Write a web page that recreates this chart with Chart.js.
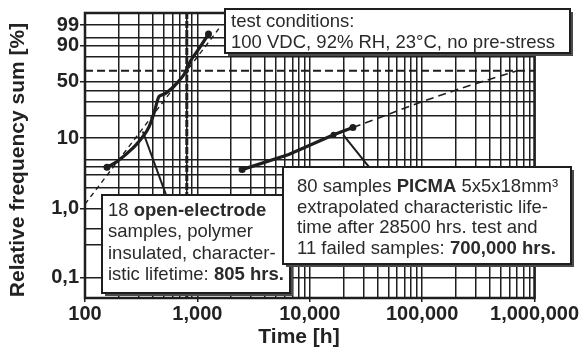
<!DOCTYPE html>
<html>
<head>
<meta charset="utf-8">
<script src="https://cdn.jsdelivr.net/npm/chart.js@4.4.7/dist/chart.umd.min.js"></script>
<style>
    html, body { margin: 0; padding: 0; background: #fff; }
</style>
</head>
<body>
<canvas id="weibull" width="579" height="353"></canvas>
<script>
//////////////////////////////////////////      Data     ///////////////////////////////////////////

// 18 open-electrode samples (failure times in hours, frequency sum in %).
var openHours = [157, 193, 268, 337, 372, 411, 454, 517, 590, 673, 767, 875, 1030, 1256];
var openPct   = [3.9, 4.7, 7.3, 11.1, 14.3, 21.4, 34.2, 37.3, 42.4, 49.8, 59.6, 75.7, 87.5, 96.7];

// Weibull fit line for the open-electrode samples.
var openFitHours = [100, 805, 1550];
var openFitPct   = [1.15, 63.2, 98.3];

// 80 PICMA samples, 11 failed.
var picmaHours = [2500, 6500, 16300, 24200];
var picmaPct   = [3.6, 5.9, 11.1, 13.9];

// Extrapolation for the PICMA samples.
var picmaFitHours = [24200, 99500, 241500, 700000];
var picmaFitPct   = [13.9, 29.9, 44.2, 63.2];

// Characteristic lifetime markers.
var charPct   = 63.2;
var charHours = 805;

// Leader lines from the curves to the text boxes.
var leaderOpenHours  = [327, 535];
var leaderOpenPct    = [12.3, 1.45];
var leaderPicmaHours = [19850, 34300];
var leaderPicmaPct   = [11.1, 3.77];

// Axes.
var xMinHours   = 100;
var xMaxHours   = 1000000;
var xLabelHours = [100, 1000, 10000, 100000, 1000000];
var yMinPct     = 0.05;
var yMaxPct     = 99.9;
var yGridPct    = [0.1, 0.3, 0.5, 1, 2, 3, 4, 5, 10, 20, 30, 40, 50, 80, 90, 95, 99];
var yLabelPct   = [0.1, 1, 10, 50, 90, 99];
var yLabelText  = ['0,1', '1,0', '10', '50', '90', '99'];

//////////////////////////////////////////      Helpers     ///////////////////////////////////////////

var FONT = '"Liberation Sans", Arial, sans-serif';
var INK  = '#1e1e1e';

// Weibull probability transform: ln(-ln(1-F)).
function weib(p) {
    return Math.log(-Math.log(1 - p / 100));
}

function points(hours, pct) {
    return hours.map(function(h, i) {
        return { x: h, y: weib(pct[i]) };
    });
}

function xGridHours() {
    var list = [];
    for (var k = 2; k < 6; k++) {
        for (var m = 1; m < 10; m++) {
            list.push(m * Math.pow(10, k));
        }
    }
    list.push(xMaxHours);
    return list;
}

/*
 * Draws a framed text box with a drop shadow. Each line is a list of [text, bold] runs.
 */
function drawBox(ctx, box) {

    ctx.fillStyle = '#4a4a4a';
    ctx.fillRect(box.x + 3, box.y + 3, box.w, box.h);
    ctx.fillStyle = '#fff';
    ctx.fillRect(box.x, box.y, box.w, box.h);
    ctx.lineWidth = 2;
    ctx.strokeStyle = INK;
    ctx.strokeRect(box.x, box.y, box.w, box.h);

    ctx.fillStyle = '#2a2a2a';
    ctx.textAlign = 'left';
    ctx.textBaseline = 'alphabetic';
    box.lines.forEach(function(line, i) {
        var x = box.tx;
        line.forEach(function(run) {
            ctx.font = (run[1] ? 'bold ' : '') + '18.5px ' + FONT;
            ctx.fillText(run[0], x, box.ty + i * box.lh);
            x += ctx.measureText(run[0]).width;
        });
    });
}

var openBox = {
    x: 102, y: 195, w: 188, h: 98, tx: 108, ty: 216, lh: 21.3,
    lines: [
        [['18 ', false], ['open-electrode', true]],
        [['samples, polymer', false]],
        [['insulated, character-', false]],
        [['istic lifetime: ', false], ['805 hrs.', true]]
    ]
};

var picmaBox = {
    x: 283, y: 167, w: 288, h: 97, tx: 297, ty: 192, lh: 20.6,
    lines: [
        [['80 samples ', false], ['PICMA', true], [' 5x5x18mm\u00b3', false]],
        [['extrapolated characteristic life-', false]],
        [['time after 28500 hrs. test and', false]],
        [['11 failed samples: ', false], ['700,000 hrs.', true]]
    ]
};

var testBox = {
    x: 225, y: 9, w: 345, h: 44, tx: 231, ty: 27, lh: 20.5,
    lines: [
        [['test conditions:', false]],
        [['100 VDC, 92% RH, 23\u00b0C, no pre-stress', false]]
    ]
};

var annotationPlugin = {
    id: 'annotations',
    afterDatasetsDraw: function(chart) {
        var ctx = chart.ctx, a = chart.chartArea;
        ctx.save();

        // Plot frame.
        ctx.lineWidth = 2.5;
        ctx.strokeStyle = INK;
        ctx.strokeRect(a.left, a.top, a.right - a.left, a.bottom - a.top);

        drawBox(ctx, openBox);
        drawBox(ctx, picmaBox);
        drawBox(ctx, testBox);

        // Axis titles.
        ctx.fillStyle = '#222';
        ctx.font = 'bold 21px ' + FONT;
        ctx.textAlign = 'center';
        ctx.textBaseline = 'alphabetic';
        ctx.fillText('Time [h]', 299, 343);

        ctx.translate(24, 160);
        ctx.rotate(-Math.PI / 2);
        ctx.fillText('Relative frequency sum [%]', 0, 0);
        ctx.restore();
    }
};

//////////////////////////////////////////      Chart     ///////////////////////////////////////////

function lineSet(data, width, dash, radius) {
    return {
        data: data,
        borderColor: INK,
        backgroundColor: INK,
        borderWidth: width,
        borderDash: dash,
        pointRadius: radius,
        pointBorderWidth: 0,
        tension: 0,
        fill: false
    };
}

var openData  = points(openHours, openPct);
var picmaData = points(picmaHours, picmaPct);

var datasets = [
    lineSet(points(openFitHours, openFitPct), 1.4, [5, 4], 0),
    lineSet(points(picmaFitHours, picmaFitPct), 1.6, [8, 5], 0),
    lineSet(points([xMinHours, xMaxHours], [charPct, charPct]), 2, [8, 4], 0),
    lineSet(points([charHours, charHours], [yMinPct, yMaxPct]), 3, [7, 2], 0),
    lineSet(points(leaderOpenHours, leaderOpenPct), 2, [], 0),
    lineSet(points(leaderPicmaHours, leaderPicmaPct), 2, [], 0),
    lineSet(openData, 3.2, [], openData.map(function(p, i) { return (i === 0 || i === openData.length - 1) ? 3.5 : 0; })),
    lineSet(picmaData, 3.2, [], picmaData.map(function(p, i) { return (i === 0 || i === picmaData.length - 1) ? 3.5 : (i === 2 ? 3 : 0); }))
];
datasets[6].tension = 0.2;

var tickFont = { family: FONT, size: 20, weight: 'bold' };

var chart = new Chart(document.getElementById('weibull'), {
    type: 'line',
    data: { datasets: datasets },
    options: {
        responsive: false,
        animation: false,
        devicePixelRatio: 1,
        layout: { padding: { top: 10, right: 27, left: 0, bottom: 0 } },
        plugins: {
            legend: { display: false },
            tooltip: { enabled: false }
        },
        scales: {
            x: {
                type: 'logarithmic',
                min: xMinHours,
                max: xMaxHours,
                afterBuildTicks: function(scale) {
                    scale.ticks = xGridHours().map(function(v) { return { value: v }; });
                },
                afterFit: function(scale) { scale.height = 55; },
                border: { display: false },
                grid: {
                    color: INK,
                    lineWidth: 1.5,
                    tickLength: 4,
                    tickColor: function(c) {
                        return (c.tick && xLabelHours.indexOf(c.tick.value) >= 0) ? INK : 'rgba(0,0,0,0)';
                    }
                },
                ticks: {
                    autoSkip: false,
                    maxRotation: 0,
                    padding: 0,
                    color: '#222',
                    font: tickFont,
                    callback: function(value) {
                        return xLabelHours.indexOf(value) >= 0 ? value.toLocaleString('en-US') : '';
                    }
                }
            },
            y: {
                type: 'linear',
                min: weib(yMinPct),
                max: weib(yMaxPct),
                afterBuildTicks: function(scale) {
                    scale.ticks = yGridPct.map(function(p) { return { value: weib(p) }; });
                },
                afterFit: function(scale) { scale.width = 85; },
                border: { display: false },
                grid: {
                    color: INK,
                    lineWidth: 1.5,
                    tickLength: 5,
                    tickColor: function(c) {
                        return (c.tick && yLabelPct.indexOf(yGridPct[c.index]) >= 0) ? INK : 'rgba(0,0,0,0)';
                    }
                },
                ticks: {
                    autoSkip: false,
                    padding: 1,
                    color: '#222',
                    font: tickFont,
                    callback: function(value, index) {
                        var k = yLabelPct.indexOf(yGridPct[index]);
                        return k >= 0 ? yLabelText[k] : '';
                    }
                }
            }
        }
    },
    plugins: [annotationPlugin]
});
</script>
</body>
</html>
